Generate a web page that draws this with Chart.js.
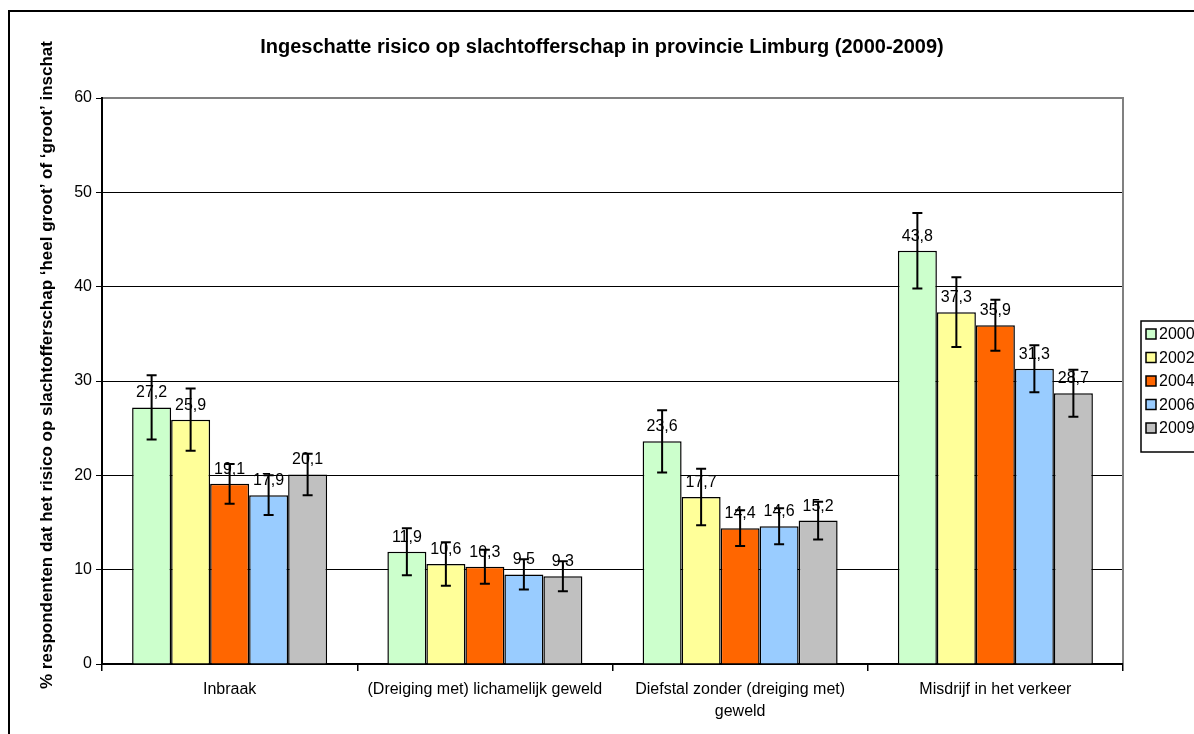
<!DOCTYPE html>
<html><head><meta charset="utf-8">
<script src="https://cdn.jsdelivr.net/npm/chart.js@4"></script>
<style>html,body{margin:0;padding:0;background:#fff;overflow:hidden}#wrap{width:1194px;height:734px;position:relative}</style>
</head><body><div id="wrap"><canvas id="c" width="1194" height="734"></canvas></div>
<script>
const titleText = 'Ingeschatte risico op slachtofferschap in provincie Limburg (2000-2009)';
const yTitle = '% respondenten dat het risico op slachtofferschap \u2018heel groot\u2019 of \u2018groot\u2019 inschat';
const categories = ['Inbraak', '(Dreiging met) lichamelijk geweld', ['Diefstal zonder (dreiging met)', 'geweld'], 'Misdrijf in het verkeer'];
const years = ['2000', '2002', '2004', '2006', '2009'];
const v2000 = [27.2, 11.9, 23.6, 43.8];
const v2002 = [25.9, 10.6, 17.7, 37.3];
const v2004 = [19.1, 10.3, 14.4, 35.9];
const v2006 = [17.9, 9.5, 14.6, 31.3];
const v2009 = [20.1, 9.3, 15.2, 28.7];
const e2000 = [3.4, 2.5, 3.3, 4.0];
const e2002 = [3.3, 2.3, 3.0, 3.7];
const e2004 = [2.1, 1.8, 1.9, 2.7];
const e2006 = [2.1, 1.6, 1.9, 2.5];
const e2009 = [2.2, 1.6, 2.0, 2.5];
const yMin = 0, yMax = 60, yStep = 10;
const colors = ['#CCFFCC', '#FFFF99', '#FF6600', '#99CCFF', '#C0C0C0'];

const values = [v2000, v2002, v2004, v2006, v2009];
const errors = [e2000, e2002, e2004, e2006, e2009];
const FONT = '"Liberation Sans", Arial, sans-serif';

const datasets = years.map((y, i) => ({
  label: y,
  data: values[i],
  errors: errors[i],
  backgroundColor: colors[i],
  borderColor: '#000',
  borderWidth: 1.5,
  categoryPercentage: 0.764,
  barPercentage: 1.0
}));

const fmt = v => v.toFixed(1).replace('.', ',');

const errPlugin = {
  id: 'errbars',
  afterDatasetsDraw(chart) {
    const ctx = chart.ctx;
    const ys = chart.scales.y;
    ctx.save();
    chart.data.datasets.forEach((ds, di) => {
      const meta = chart.getDatasetMeta(di);
      meta.data.forEach((bar, i) => {
        const v = ds.data[i];
        ctx.fillStyle = '#000';
        ctx.font = '16px ' + FONT;
        ctx.textAlign = 'center';
        ctx.textBaseline = 'alphabetic';
        ctx.fillText(fmt(v), bar.x, bar.y - 10);
        const e = ds.errors[i];
        const top = ys.getPixelForValue(v + e);
        const bot = ys.getPixelForValue(v - e);
        ctx.strokeStyle = '#000';
        ctx.lineWidth = 2;
        ctx.beginPath();
        ctx.moveTo(bar.x, top); ctx.lineTo(bar.x, bot);
        ctx.moveTo(bar.x - 5, top); ctx.lineTo(bar.x + 5, top);
        ctx.moveTo(bar.x - 5, bot); ctx.lineTo(bar.x + 5, bot);
        ctx.stroke();
      });
    });
    ctx.restore();
  }
};

const decoPlugin = {
  id: 'deco',
  afterDraw(chart) {
    const ctx = chart.ctx;
    const a = chart.chartArea;
    ctx.save();
    ctx.strokeStyle = '#000';
    ctx.lineWidth = 2;
    ctx.strokeRect(9, 11, 1400, 1000);
    ctx.strokeStyle = '#808080';
    ctx.lineWidth = 2;
    ctx.beginPath();
    ctx.moveTo(a.left + 1, a.top); ctx.lineTo(a.right, a.top); ctx.lineTo(a.right, a.bottom - 1);
    ctx.stroke();
    ctx.fillStyle = '#000';
    ctx.font = 'bold 20px ' + FONT;
    ctx.textAlign = 'center';
    ctx.textBaseline = 'middle';
    ctx.fillText(titleText, 602, 47);
    ctx.save();
    ctx.translate(47, 365);
    ctx.rotate(-Math.PI / 2);
    ctx.font = 'bold 17px ' + FONT;
    ctx.fillText(yTitle, 0, 0);
    ctx.restore();
    ctx.fillStyle = '#fff';
    ctx.fillRect(1141, 321, 100, 131);
    ctx.strokeStyle = '#000';
    ctx.lineWidth = 1.5;
    ctx.strokeRect(1141, 321, 100, 131);
    chart.data.datasets.forEach((ds, i) => {
      const cy = 334 + i * 23.5;
      ctx.fillStyle = ds.backgroundColor;
      ctx.fillRect(1146, cy - 5, 10, 10);
      ctx.strokeStyle = '#000';
      ctx.strokeRect(1146, cy - 5, 10, 10);
      ctx.fillStyle = '#000';
      ctx.font = '16px ' + FONT;
      ctx.textAlign = 'left';
      ctx.textBaseline = 'middle';
      ctx.fillText(ds.label, 1159, cy + 1);
    });
    ctx.restore();
  }
};

new Chart(document.getElementById('c'), {
  type: 'bar',
  data: { labels: categories, datasets },
  options: {
    responsive: false,
    animation: false,
    devicePixelRatio: 1,
    layout: { padding: { top: 98, right: 71, left: 0, bottom: 0 } },
    plugins: { legend: { display: false }, title: { display: false }, tooltip: { enabled: false } },
    scales: {
      x: {
        type: 'category',
        grid: { offset: true, drawOnChartArea: false, drawTicks: true, tickLength: 7, color: '#000', lineWidth: 1.5 },
        border: { color: '#000', width: 2 },
        ticks: { font: { family: FONT, size: 16, lineHeight: 1.35 }, color: '#000', padding: 8, maxRotation: 0, autoSkip: false },
        afterFit(s) { s.height = 70; }
      },
      y: {
        min: yMin, max: yMax,
        ticks: { stepSize: yStep, font: { family: FONT, size: 16 }, color: '#000', padding: 4 },
        grid: { color: '#000', lineWidth: 1, tickLength: 6, drawTicks: true },
        border: { color: '#000', width: 2 },
        afterFit(s) { s.width = 102; }
      }
    }
  },
  plugins: [errPlugin, decoPlugin]
});
</script>
</body></html>
